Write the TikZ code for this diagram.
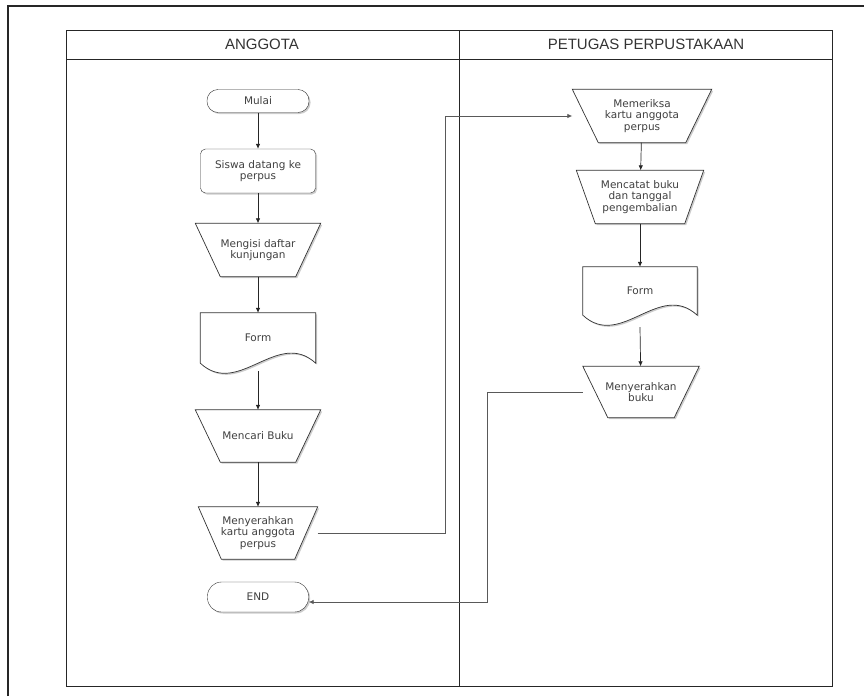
\documentclass[tikz,border=0pt]{standalone}
\usepackage{fontspec}
\setmainfont{DejaVu Sans}
\newfontfamily\headfont{Liberation Sans}
\usetikzlibrary{arrows.meta,shadows,backgrounds}

\newcommand{\boxfont}{\fontsize{10.5}{11.5}\selectfont}

\tikzset{
  shade/.style={drop shadow={shadow xshift=1.5pt, shadow yshift=-1.5pt, opacity=0.4}},
  boxtext/.style={align=center, font=\boxfont, text=black!75, inner sep=1pt},
  terminal/.style={boxtext, draw=black!80, fill=white, shade, rectangle, rounded corners=11pt,
    minimum width=102pt, minimum height=23pt},
  process/.style={boxtext, draw=black!80, fill=white, shade, rectangle, rounded corners=5pt,
    minimum width=115pt, minimum height=44pt},
  manual/.style={boxtext, rectangle, minimum width=125pt, minimum height=53pt},
  document/.style={boxtext, rectangle, minimum width=115pt, minimum height=50pt},
  outline/.style={draw=black!80, fill=white, line width=0.7pt, shade},
  flow/.style={-{Latex[length=5pt,width=4.5pt]}, draw=black!85, line width=0.7pt},
  link/.style={-{Latex[length=5pt,width=4.5pt]}, draw=black!65, line width=0.8pt},
  lane/.style={font=\headfont\fontsize{15}{16}\selectfont, text=black!80}
}

\begin{document}
\begin{tikzpicture}[x=1pt, y=-1pt]
  \useasboundingbox (0,0) rectangle (864,696);

  % outer frame
  \draw[line width=1.6pt, black!85] (8,696) -- (8,6) -- (864,6);

  % swimlanes
  \draw[line width=0.8pt, black!85] (66,30) rectangle (832,686);
  \draw[line width=0.8pt, black!85] (66,59) -- (832,59);
  \draw[line width=0.8pt, black!85] (459,30) -- (459,686);
  \node[lane] (laneA) at (262,44) {ANGGOTA};
  \node[lane] (laneB) at (646,44) {PETUGAS PERPUSTAKAAN};

  % anggota
  \node[terminal] (mulai) at (258,101) {Mulai};
  \node[process] (siswa) at (258,171) {Siswa datang ke\\perpus};
  \node[manual] (isi) at (258,250) {Mengisi daftar\\kunjungan};
  \node[document] (formA) at (258,338) {Form};
  \node[manual, minimum height=52pt] (cari) at (258,436) {Mencari Buku};
  \node[manual, minimum width=119pt, minimum height=52pt] (kartuA) at (258,533) {Menyerahkan\\kartu anggota\\perpus};
  \node[terminal, minimum height=30pt, minimum width=101pt, rounded corners=14pt] (endA) at (258,597) {END};

  % petugas
  \node[manual, minimum width=139pt] (periksa) at (642,116) {Memeriksa\\kartu anggota\\perpus};
  \node[manual, minimum width=127pt] (catat) at (640,197) {Mencatat buku\\dan tanggal\\pengembalian};
  \node[document, minimum width=114pt, minimum height=48pt] (formB) at (640,291) {Form};
  \node[manual, minimum width=116pt, minimum height=51pt] (serah) at (641,392) {Menyerahkan\\buku};

  % bentuk di belakang teks
  \begin{scope}[on background layer]
    \foreach \n/\d in {isi/25, cari/25, kartuA/23, periksa/26, catat/19, serah/25}
      \draw[outline] (\n.north west) -- (\n.north east) -- ([xshift=-\d pt]\n.south east)
        -- ([xshift=\d pt]\n.south west) -- cycle;
    \foreach \n in {formA, formB}
      \draw[outline] (\n.south west) -- (\n.north west) -- (\n.north east) -- (\n.south east)
        .. controls +(-38,-35) and +(38,35) .. (\n.south west) -- cycle;
  \end{scope}

  % alur
  \draw[flow] (mulai) -- (siswa);
  \draw[flow] (siswa) -- (isi);
  \draw[flow] (isi) -- (formA);
  \draw[flow] ([yshift=-8pt]formA.south) -- (cari);
  \draw[flow] (cari) -- (kartuA);
  \draw[flow] (periksa) -- (catat);
  \draw[flow] (catat) -- (formB);
  \draw[flow] ([yshift=-12pt]formB.south) -- (serah);

  \coordinate (bendA) at (445,116);
  \coordinate (bendB) at (487,602);
  \draw[link] (kartuA.east) -| (bendA) -- (periksa.west);
  \draw[link] (serah.west) -| (bendB) -- (endA.east |- bendB);
\end{tikzpicture}
\end{document}
